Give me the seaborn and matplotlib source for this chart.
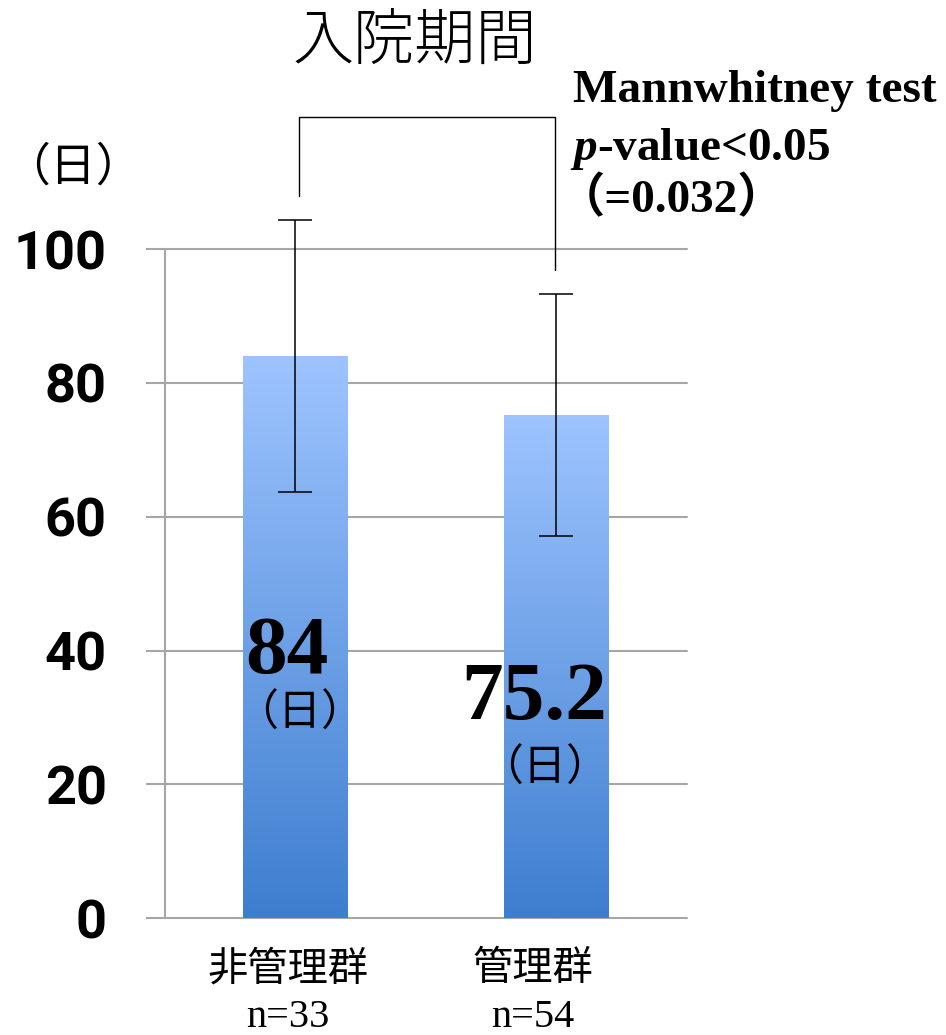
import numpy as np
import pandas as pd
import seaborn as sns
import matplotlib.pyplot as plt
from matplotlib.colors import LinearSegmentedColormap
from matplotlib.transforms import ScaledTranslation

# data
groups = ["非管理群", "管理群"]
n_sizes = [33, 54]
mean_days = [84, 75.2]
sd_days = [20.3, 18.1]
value_labels = ["84", "75.2"]
y_ticks = [0, 20, 40, 60, 80, 100]
p_value = 0.032

sns.set_theme(style="white")
plt.rcParams["font.family"] = ["Liberation Serif", "Noto Sans CJK JP", "DejaVu Sans"]
plt.rcParams["text.color"] = "black"
plt.rcParams["xtick.labelcolor"] = "black"
plt.rcParams["ytick.labelcolor"] = "black"
plt.rcParams["mathtext.fontset"] = "custom"
plt.rcParams["mathtext.it"] = "Liberation Serif:italic:bold"
plt.rcParams["mathtext.rm"] = "Liberation Serif:bold"

df = pd.DataFrame({"group": groups, "days": mean_days})

fig = plt.figure(figsize=(9.46, 10.35), dpi=100)
ax = fig.add_axes([0.1744, 0.1128, 0.5518, 0.6466])

sns.barplot(data=df, x="group", y="days", errorbar=None, width=0.4,
            color="#6fa0e6", ax=ax, zorder=2)

# vertical gradient inside each bar
cmap = LinearSegmentedColormap.from_list("bar", ["#3e7ecf", "#9ec4ff"])
grad = np.linspace(0, 1, 256).reshape(-1, 1)
for bar in ax.patches:
    x0, y0 = bar.get_x(), bar.get_y()
    w, h = bar.get_width(), bar.get_height()
    im = ax.imshow(grad, cmap=cmap, aspect="auto", origin="lower",
                   extent=[x0, x0 + w, y0, y0 + h], zorder=2.5)
    im.set_clip_path(bar)
    bar.set_facecolor("none")
    bar.set_edgecolor("none")

# error bars (SD)
eb = ax.errorbar(x=list(range(len(groups))), y=mean_days, yerr=sd_days, fmt="none",
                 ecolor="black", elinewidth=1.1, capsize=12, capthick=1.1, zorder=4)
for c in eb.get_children():
    c.set_clip_on(False)

ax.set_xlim(-0.5, 1.5)
ax.set_ylim(0, 100)
ax.set_yticks(y_ticks)
ax.grid(axis="y", color="#a6a6a6", linewidth=1.5)
ax.set_axisbelow(True)
for l in ax.get_ygridlines():
    l.set_clip_on(False)
for s in ["top", "right", "bottom"]:
    ax.spines[s].set_visible(False)
ax.spines["left"].set_color("#a6a6a6")
ax.spines["left"].set_linewidth(1.5)
ax.set_xlabel("")
ax.set_ylabel("")

ax.tick_params(axis="y", left=True, length=14, width=1.5, color="#a6a6a6",
               pad=28, labelsize=39, labelcolor="black")
for t in ax.get_yticklabels():
    t.set_fontfamily("Roboto")
    t.set_fontweight("bold")

ax.set_xticks(range(len(groups)))
ax.set_xticklabels([f"{g}\nn={n}" for g, n in zip(groups, n_sizes)], fontsize=29,
                   linespacing=1.35)
ax.tick_params(axis="x", length=0, pad=24, labelcolor="black")
for t, dx in zip(ax.get_xticklabels(), [-8, -24]):
    t.set_transform(t.get_transform() + ScaledTranslation(dx / 100, 0, fig.dpi_scale_trans))

# value labels inside the bars
value_pos = [(-0.033, 39.6), (0.914, 32.7)]
unit_pos = [(0.017, 30.5), (0.956, 22.3)]
for lab, (vx, vy), (ux, uy) in zip(value_labels, value_pos, unit_pos):
    ax.text(vx, vy, lab, ha="center", va="center", fontsize=60, fontweight="bold",
            fontfamily="Liberation Serif", zorder=5)
    ax.text(ux, uy, "（日）", ha="center", va="center", fontsize=31,
            fontfamily="Noto Sans CJK JP", zorder=5)

# significance bracket
bracket_top = 119.7
bracket_gap = 3.6
tops = [m + s for m, s in zip(mean_days, sd_days)]
ax.plot([0.015, 0.015, 0.995, 0.995],
        [tops[0] + bracket_gap, bracket_top, bracket_top, tops[1] + bracket_gap],
        color="black", linewidth=1.0, clip_on=False, zorder=4)

# titles and notes
fig.text(415 / 946, 1 - 42 / 1035, "入院期間", ha="center", va="center",
         fontsize=44, fontfamily="Noto Sans CJK JP", fontweight="light")
fig.text(73 / 946, 1 - 167 / 1035, "（日）", ha="center", va="center",
         fontsize=33, fontfamily="Noto Sans CJK JP")
fig.text(573 / 946, 1 - 102 / 1035, "Mannwhitney test", ha="left", va="baseline",
         fontsize=34, fontweight="bold")
fig.text(570 / 946, 1 - 160 / 1035, r"$\mathit{p}$-value<0.05", ha="left", va="baseline",
         fontsize=34, fontweight="bold")
fig.text(558 / 946, 1 - 200 / 1035, f"（={p_value}）", ha="left", va="center",
         fontsize=34, fontweight="bold")

fig.savefig("out.png", dpi=100)
